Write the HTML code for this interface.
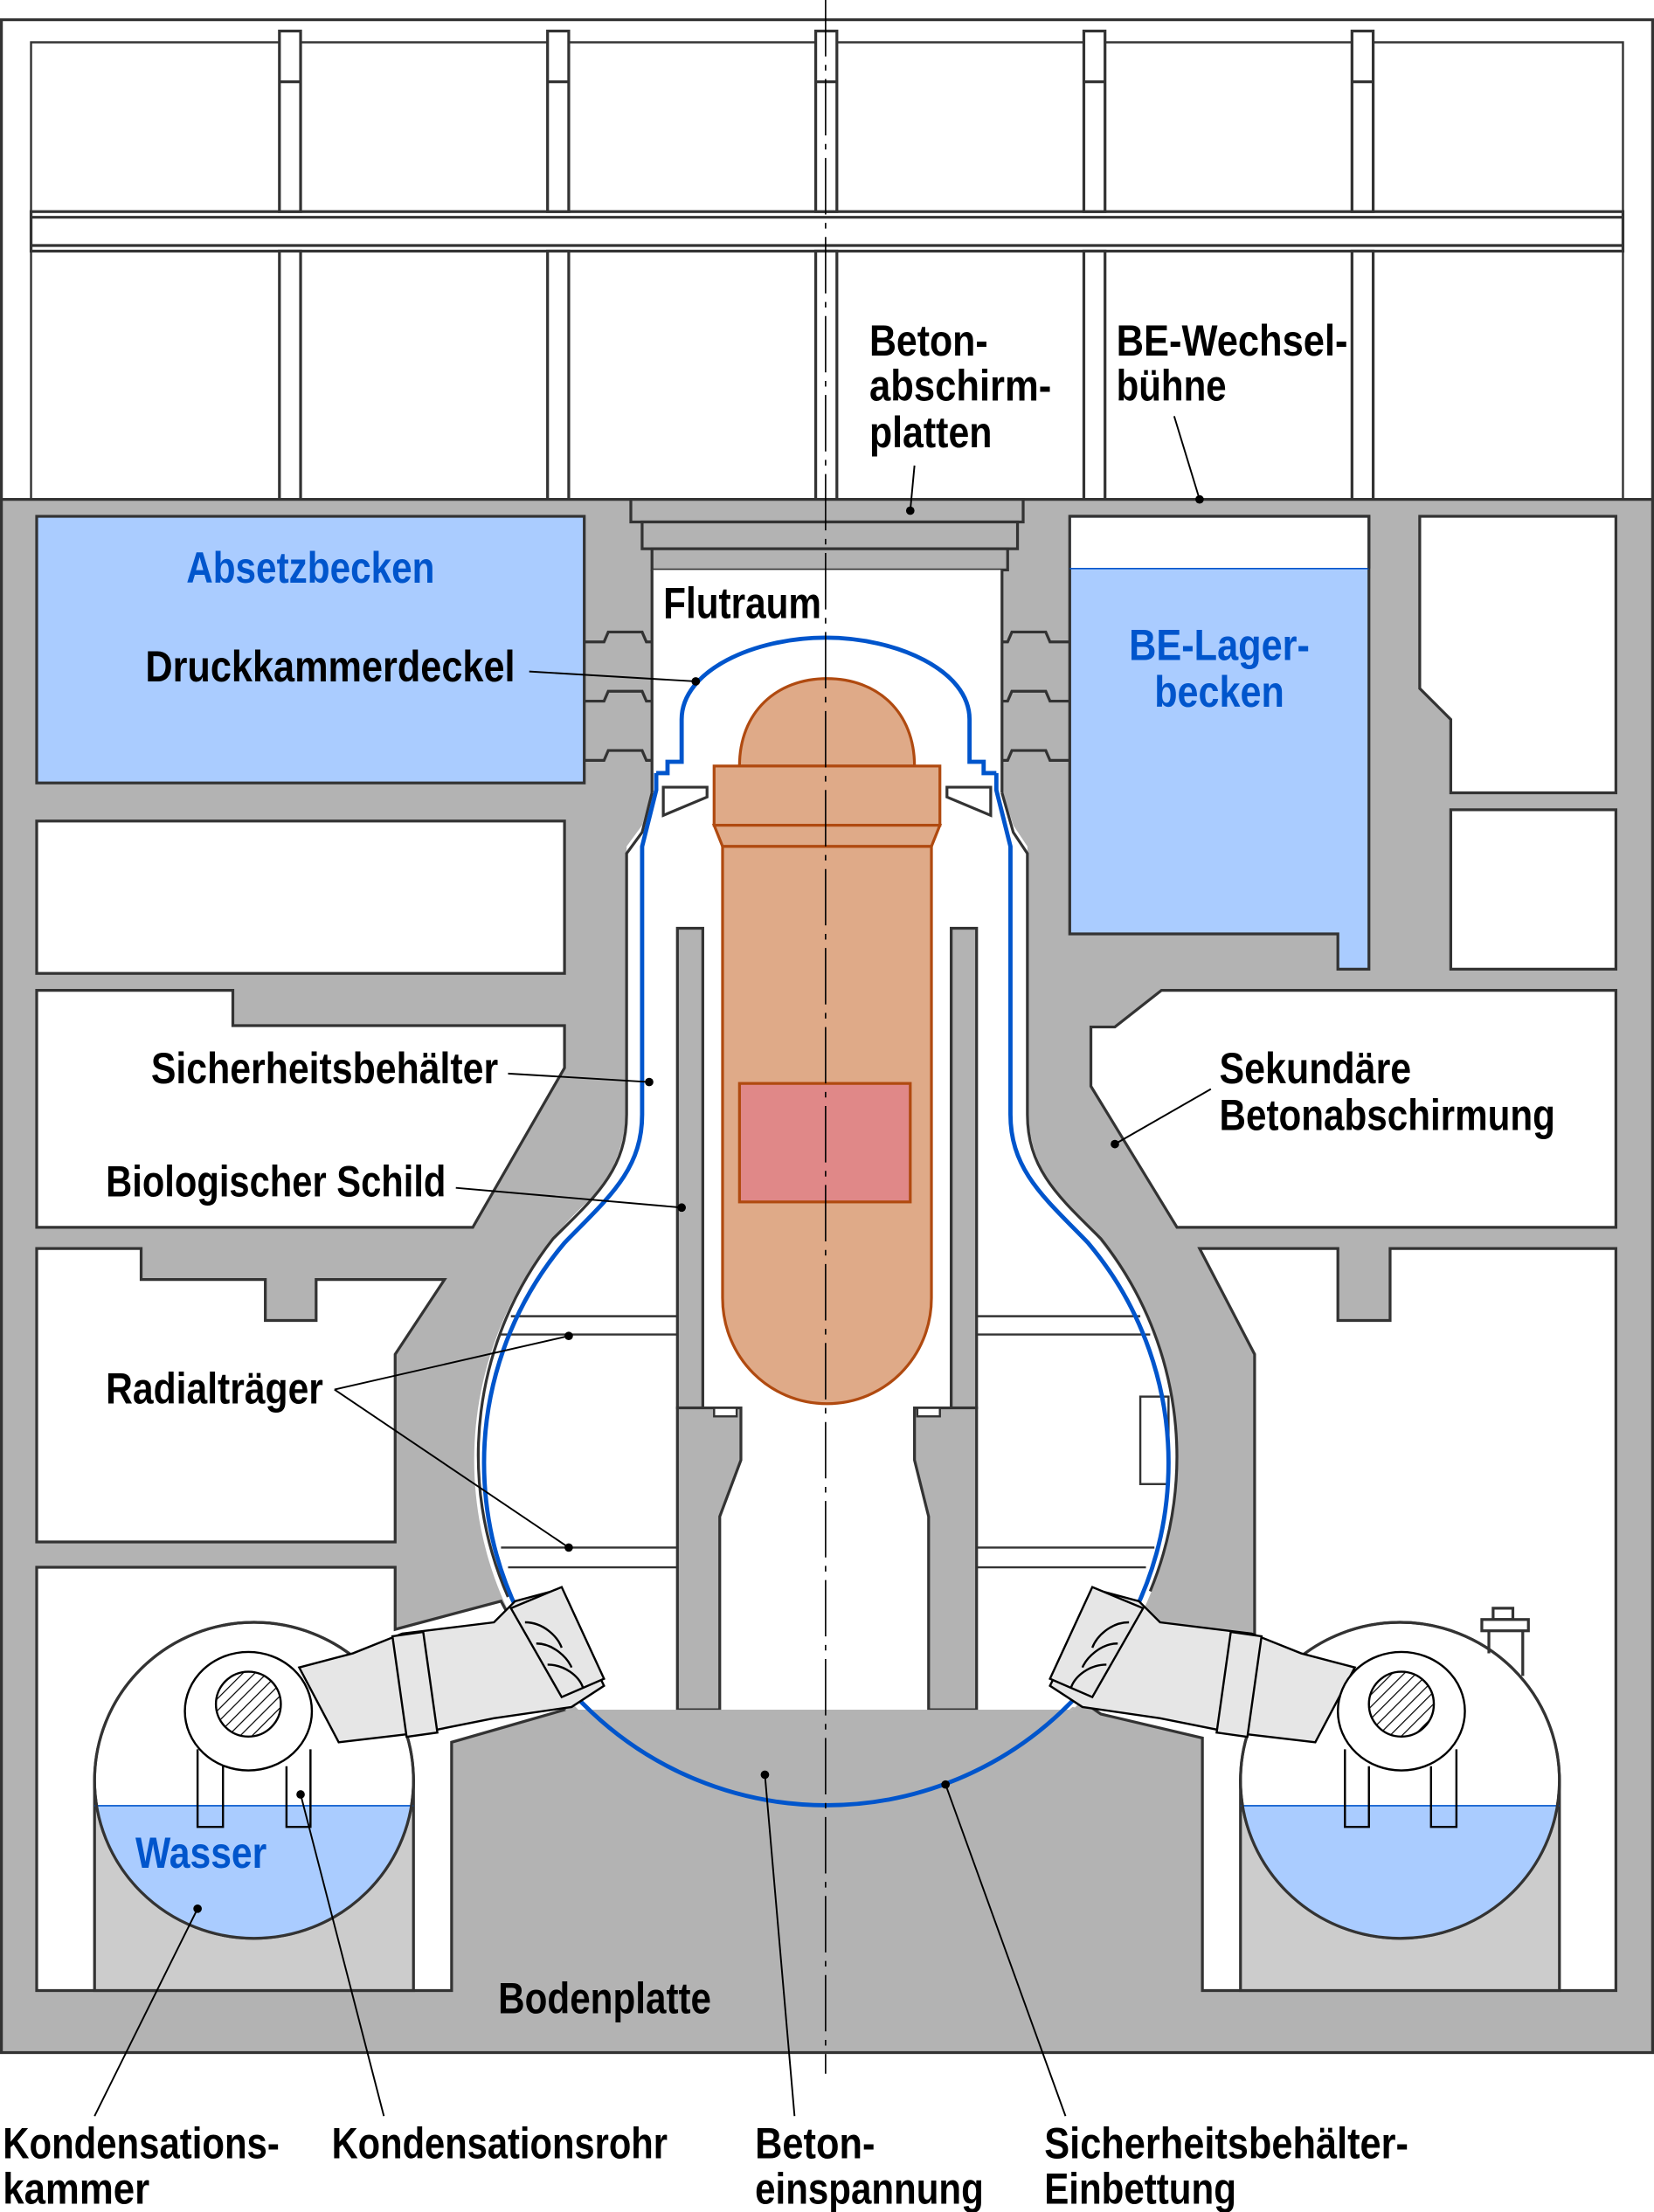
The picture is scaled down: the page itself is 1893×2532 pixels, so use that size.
<!DOCTYPE html>
<html><head><meta charset="utf-8"><style>
html,body{margin:0;padding:0;background:#fff}
svg{display:block}
text{font-family:"Liberation Sans Narrow","Liberation Sans",sans-serif;font-weight:bold;font-size:31px;fill:#000}
.b{fill:#0055cc}
</style></head><body>
<svg width="1893" height="2532" viewBox="0 0 1172 1568" preserveAspectRatio="none" xmlns="http://www.w3.org/2000/svg">
<defs>
<clipPath id="top"><rect x="0" y="0" width="1172" height="1212"/></clipPath>
<clipPath id="lt"><ellipse cx="180" cy="1262" rx="113" ry="112"/></clipPath>
<clipPath id="rt"><ellipse cx="992" cy="1262" rx="113" ry="112"/></clipPath>
<pattern id="hatch" width="6" height="6" patternUnits="userSpaceOnUse" patternTransform="rotate(45)"><rect width="6" height="6" fill="#fff"/><line x1="0" y1="0" x2="0" y2="6" stroke="#000" stroke-width="1.5"/></pattern>
</defs>
<g stroke="#333" stroke-width="2">
<rect x="1" y="14" width="1170" height="341" fill="#fff"/>
<rect x="22" y="30" width="1128" height="325" fill="#fff" stroke-width="1.5"/>
<rect x="22" y="150" width="1128" height="28" fill="#fff"/>
<line x1="22" y1="154" x2="1150" y2="154"/><line x1="22" y1="174" x2="1150" y2="174"/>
<g fill="#fff">
<rect x="198" y="22" width="15" height="128"/><rect x="198" y="178" width="15" height="176"/>
<rect x="388" y="22" width="15" height="128"/><rect x="388" y="178" width="15" height="176"/>
<rect x="578" y="22" width="15" height="128"/><rect x="578" y="178" width="15" height="176"/>
<rect x="768" y="22" width="15" height="128"/><rect x="768" y="178" width="15" height="176"/>
<rect x="958" y="22" width="15" height="128"/><rect x="958" y="178" width="15" height="176"/>
</g>
<line x1="198" y1="58" x2="213" y2="58"/><line x1="388" y1="58" x2="403" y2="58"/><line x1="578" y1="58" x2="593" y2="58"/><line x1="768" y1="58" x2="783" y2="58"/><line x1="958" y1="58" x2="973" y2="58"/>
<rect x="1" y="354" width="1170" height="1101" fill="#b3b3b3"/>
<rect x="447" y="354" width="278" height="16" fill="#b3b3b3"/>
<rect x="455" y="370" width="266" height="19" fill="#b3b3b3"/>
<rect x="462" y="389" width="252" height="15" fill="#b3b3b3"/>
<rect x="26" y="366" width="388" height="189" fill="#aaccff"/>
<path d="M758,366 H970 V687 H948 V662 H758 Z" fill="#aaccff"/>
<rect x="759" y="367" width="210" height="36" fill="#fff" stroke="none"/>
<line x1="758" y1="403" x2="970" y2="403" stroke="#0055cc" stroke-width="1"/>
<path d="M758,366 H970 V403" fill="none"/>
<g fill="#fff">
<path d="M1006,366 H1145 V562 H1028 V510 L1006,488 Z"/>
<rect x="1028" y="574" width="117" height="113"/>
<rect x="26" y="582" width="374" height="108"/>
<path d="M26,702 H165 V727 H400 V757 L335,870 H26 Z"/>
<path d="M823,702 H1145 V870 H834 L773,770 V728 H790 Z"/>
<path d="M26,885 H100 V907 H188 V936 H224 V907 H315 L280,960 V1093 H26 Z"/>
<path d="M850,885 H948 V936 H985 V885 H1145 V1411 H852 V1232 L780,1215 L770,1208 L812,1148 L889,1175 V960 Z"/>
<path d="M26,1111 H280 V1155 L355,1135 L390,1200 L400,1212 L320,1235 V1411 H26 Z"/>
</g>
<g stroke="none" fill="#fff">
<rect x="462" y="404" width="248" height="160"/>
<polygon points="462,560 710,560 718,585 728,600 728,800 444,800 444,600 455,585"/>
<path d="M444,780 C444,830 420,850 392,880 L780,880 C752,850 728,830 728,780 Z"/>
<circle cx="585" cy="1035" r="249" clip-path="url(#top)"/>
</g>
<path d="M462,404 V562 M710,404 V562 M462,562 L455,590 L444,605 V790 C444,830 420,850 392,878 A249,249 0 0 0 360,1132 M710,562 L718,590 L728,605 V790 C728,830 752,850 780,878 A249,249 0 0 1 815,1128" fill="none"/>
<path d="M414,455 H428 L431,448 H455 L458,455 H462 M414,497 H428 L431,490 H455 L458,497 H462 M414,539 H428 L431,532 H455 L458,539 H462" fill="none"/>
<path d="M758,455 H744 L741,448 H717 L714,455 H710 M758,497 H744 L741,490 H717 L714,497 H710 M758,539 H744 L741,532 H717 L714,539 H710" fill="none"/>
<path d="M470,558 H501 V565 L470,578 Z M702,558 H671 V565 L702,578 Z" fill="#fff"/>
<rect x="480" y="658" width="18" height="340" fill="#b3b3b3"/>
<rect x="674" y="658" width="18" height="340" fill="#b3b3b3"/>
<path d="M480,998 H525 V1035 L510,1075 V1212 H480 Z" fill="#b3b3b3"/>
<path d="M692,998 H648 V1035 L658,1075 V1212 H692 Z" fill="#b3b3b3"/>
<rect x="506" y="998" width="16" height="6" fill="#fff" stroke-width="1.5"/>
<rect x="650" y="998" width="16" height="6" fill="#fff" stroke-width="1.5"/>
<path d="M362,933 H480 M355,946 H480 M692,933 H808 M692,946 H815 M355,1097 H480 M360,1111 H480 M692,1097 H818 M692,1111 H812" fill="none" stroke-width="1.5"/>
<rect x="808" y="990" width="20" height="62" fill="#fff" stroke-width="1.5"/>
<path d="M400,1212 H770 L760,1210 C700,1260 640,1282 585,1283 C520,1282 460,1255 400,1212 Z" fill="#b3b3b3" stroke="none"/>
</g>
<path d="M465,548 V560 L455,600 V790 C455,830 430,850 400,881 A242.5,242.5 0 1 0 771,881 C741,850 716,830 716,790 V600 L706,560 V548" fill="none" stroke="#0055cc" stroke-width="3"/>
<path d="M465,548 H473 V540 H483 V510 C483,475 535,452 585,452 C635,452 687,475 687,510 V540 H697 V548 H706" fill="none" stroke="#0055cc" stroke-width="3"/>
<g stroke="#b04a10" stroke-width="2" fill="#dfaa88">
<path d="M524,543 C524,505 550,481 586,481 C622,481 648,505 648,543 Z"/>
<rect x="506" y="543" width="160" height="42"/>
<path d="M506,585 H666 L660,600 H512 Z"/>
<path d="M512,600 H660 V920 C660,962 627,995 586,995 C545,995 512,962 512,920 Z"/>
<rect x="524" y="768" width="121" height="84" fill="#e08888"/>
</g>
<g stroke="#333" stroke-width="2">
<rect x="67" y="1262" width="226" height="149" fill="#cccccc"/>
<rect x="879" y="1262" width="226" height="149" fill="#cccccc"/>
<ellipse cx="180" cy="1262" rx="113" ry="112" fill="#fff"/>
<ellipse cx="992" cy="1262" rx="113" ry="112" fill="#fff"/>
<rect x="60" y="1280" width="240" height="110" fill="#aaccff" stroke="none" clip-path="url(#lt)"/>
<rect x="872" y="1280" width="240" height="110" fill="#aaccff" stroke="none" clip-path="url(#rt)"/>
<line x1="67" y1="1280" x2="293" y2="1280" stroke="#0055cc" stroke-width="1"/>
<line x1="879" y1="1280" x2="1105" y2="1280" stroke="#0055cc" stroke-width="1"/>
<ellipse cx="180" cy="1262" rx="113" ry="112" fill="none"/>
<ellipse cx="992" cy="1262" rx="113" ry="112" fill="none"/>
<rect x="1058" y="1140" width="14" height="8" fill="#fff"/>
<rect x="1050" y="1148" width="33" height="8" fill="#fff"/>
<path d="M1055,1156 V1172 M1079,1156 V1188" fill="none"/>
</g>
<g stroke="#000" stroke-width="1.5">
<path d="M212,1182 L250,1172 L285,1158 L350,1150 L365,1135 L395,1127 L428,1195 L405,1210 L350,1218 L300,1228 L240,1235 Z" fill="#e6e6e6"/>
<rect x="283" y="1158" width="22" height="72" transform="rotate(-8 294 1194)" fill="#e6e6e6"/>
<path d="M362,1140 L398,1125 L428,1190 L398,1203 Z" fill="#e6e6e6"/>
<path d="M372,1150 C385,1150 395,1160 398,1168 M380,1165 C392,1165 402,1175 405,1182 M388,1180 C400,1180 410,1188 413,1196" fill="none"/>
<ellipse cx="176" cy="1213" rx="45" ry="42" fill="#fff"/>
<circle cx="176" cy="1208" r="23" fill="url(#hatch)"/>
<path d="M140,1240 V1295 H158 V1252 M203,1252 V1295 H220 V1240" fill="none"/>
<path d="M960,1182 L922,1172 L887,1158 L822,1150 L807,1135 L777,1127 L744,1195 L767,1210 L822,1218 L872,1228 L932,1235 Z" fill="#e6e6e6"/>
<rect x="867" y="1158" width="22" height="72" transform="rotate(8 878 1194)" fill="#e6e6e6"/>
<path d="M810,1140 L774,1125 L744,1190 L774,1203 Z" fill="#e6e6e6"/>
<path d="M800,1150 C787,1150 777,1160 774,1168 M792,1165 C780,1165 770,1175 767,1182 M784,1180 C772,1180 762,1188 759,1196" fill="none"/>
<ellipse cx="993" cy="1213" rx="45" ry="42" fill="#fff"/>
<circle cx="993" cy="1208" r="23" fill="url(#hatch)"/>
<path d="M953,1240 V1295 H970 V1252 M1014,1252 V1295 H1032 V1240" fill="none"/>
</g>
<line x1="585" y1="0" x2="585" y2="1470" stroke="#000" stroke-width="1" stroke-dasharray="40,6,4,6"/>
<g stroke="#000" stroke-width="1.2" fill="none">
<path d="M648,330 L645,362"/><path d="M832,295 L850,354"/>
<path d="M375,476 L493,483"/><path d="M360,761 L460,767"/>
<path d="M858,772 L790,811"/><path d="M323,842 L483,856"/>
<path d="M237,985 L403,947 M237,985 L403,1097"/>
<path d="M140,1353 L67,1500"/><path d="M213,1272 L272,1500"/>
<path d="M542,1258 L563,1500"/><path d="M670,1265 L755,1500"/>
</g>
<g fill="#000">
<circle cx="645" cy="362" r="3"/><circle cx="850" cy="354" r="3"/><circle cx="493" cy="483" r="3"/><circle cx="460" cy="767" r="3"/><circle cx="790" cy="811" r="3"/><circle cx="483" cy="856" r="3"/><circle cx="403" cy="947" r="3"/><circle cx="403" cy="1097" r="3"/><circle cx="140" cy="1353" r="3"/><circle cx="213" cy="1272" r="3"/><circle cx="542" cy="1258" r="3"/><circle cx="670" cy="1265" r="3"/>
</g>
<g>
<text x="616" y="252" textLength="84" lengthAdjust="spacingAndGlyphs">Beton-</text>
<text x="616" y="284" textLength="129" lengthAdjust="spacingAndGlyphs">abschirm-</text>
<text x="616" y="317" textLength="87" lengthAdjust="spacingAndGlyphs">platten</text>
<text x="791" y="252" textLength="164" lengthAdjust="spacingAndGlyphs">BE-Wechsel-</text>
<text x="791" y="284" textLength="78" lengthAdjust="spacingAndGlyphs">bühne</text>
<text x="132" y="413" class="b" textLength="176" lengthAdjust="spacingAndGlyphs">Absetzbecken</text>
<text x="470" y="438" textLength="112" lengthAdjust="spacingAndGlyphs">Flutraum</text>
<text x="103" y="483" textLength="262" lengthAdjust="spacingAndGlyphs">Druckkammerdeckel</text>
<text x="800" y="468" class="b" textLength="128" lengthAdjust="spacingAndGlyphs">BE-Lager-</text>
<text x="818" y="501" class="b" textLength="92" lengthAdjust="spacingAndGlyphs">becken</text>
<text x="107" y="768" textLength="246" lengthAdjust="spacingAndGlyphs">Sicherheitsbehälter</text>
<text x="864" y="768" textLength="136" lengthAdjust="spacingAndGlyphs">Sekundäre</text>
<text x="864" y="801" textLength="238" lengthAdjust="spacingAndGlyphs">Betonabschirmung</text>
<text x="75" y="848" textLength="241" lengthAdjust="spacingAndGlyphs">Biologischer Schild</text>
<text x="75" y="995" textLength="154" lengthAdjust="spacingAndGlyphs">Radialträger</text>
<text x="96" y="1324" class="b" textLength="93" lengthAdjust="spacingAndGlyphs">Wasser</text>
<text x="353" y="1427" textLength="151" lengthAdjust="spacingAndGlyphs">Bodenplatte</text>
<text x="2" y="1530" textLength="196" lengthAdjust="spacingAndGlyphs">Kondensations-</text>
<text x="2" y="1562" textLength="104" lengthAdjust="spacingAndGlyphs">kammer</text>
<text x="235" y="1530" textLength="238" lengthAdjust="spacingAndGlyphs">Kondensationsrohr</text>
<text x="535" y="1530" textLength="85" lengthAdjust="spacingAndGlyphs">Beton-</text>
<text x="535" y="1562" textLength="162" lengthAdjust="spacingAndGlyphs">einspannung</text>
<text x="740" y="1530" textLength="258" lengthAdjust="spacingAndGlyphs">Sicherheitsbehälter-</text>
<text x="740" y="1562" textLength="136" lengthAdjust="spacingAndGlyphs">Einbettung</text>
</g>
</svg>
</body></html>
